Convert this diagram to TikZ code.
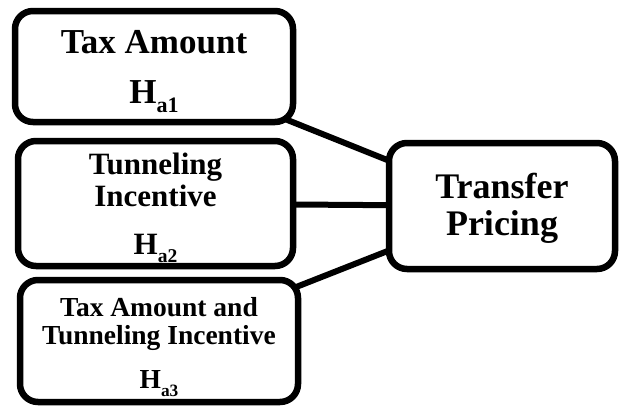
\documentclass[tikz,border=0pt]{standalone}
\usepackage{fontspec}
\setmainfont{Liberation Serif}
\usetikzlibrary{backgrounds}
\newcommand{\hyp}[1]{H\raisebox{-0.28em}[0pt][0pt]{\scalebox{0.63}{a#1}}}

\begin{document}
\begin{tikzpicture}[x=1pt, y=-1pt,
		box/.style={draw, line width=6.5pt, rounded corners=18pt, fill=white, inner sep=0pt, align=center},
		link/.style={line width=6pt}]
		%%%%% START %%%%%
		\useasboundingbox (0, 0) rectangle (619, 405);
		
		\node[box, minimum width=278pt, minimum height=111pt, font=\bfseries\fontsize{35}{50}\selectfont] (taxamount) at (154, 66.5) {Tax Amount\\\hyp{1}};
		\node[box, minimum width=275pt, minimum height=125pt, font=\bfseries\fontsize{31}{32}\selectfont] (tunneling) at (155.5, 203.5) {Tunneling\\Incentive\\[16pt]\hyp{2}};
		\node[box, minimum width=278pt, minimum height=122pt, font=\bfseries\fontsize{27.5}{28}\selectfont] (both) at (159, 341) {\rule{0pt}{23pt}Tax Amount and\\Tunneling Incentive\\[16pt]\hyp{3}};
		
		\node[box, minimum width=226pt, minimum height=126pt, font=\bfseries\fontsize{36}{37}\selectfont] (transfer) at (502, 206) {\rule{0pt}{29pt}Transfer\\Pricing};
		
		\begin{scope}[on background layer]
			\draw[link] (taxamount.center) -- (transfer.center);
			\draw[link] (tunneling.center) -- (transfer.center);
			\draw[link] (both.center) -- (transfer.center);
		\end{scope}
		
		%%%%% END %%%%%
	\end{tikzpicture}
\end{document}
